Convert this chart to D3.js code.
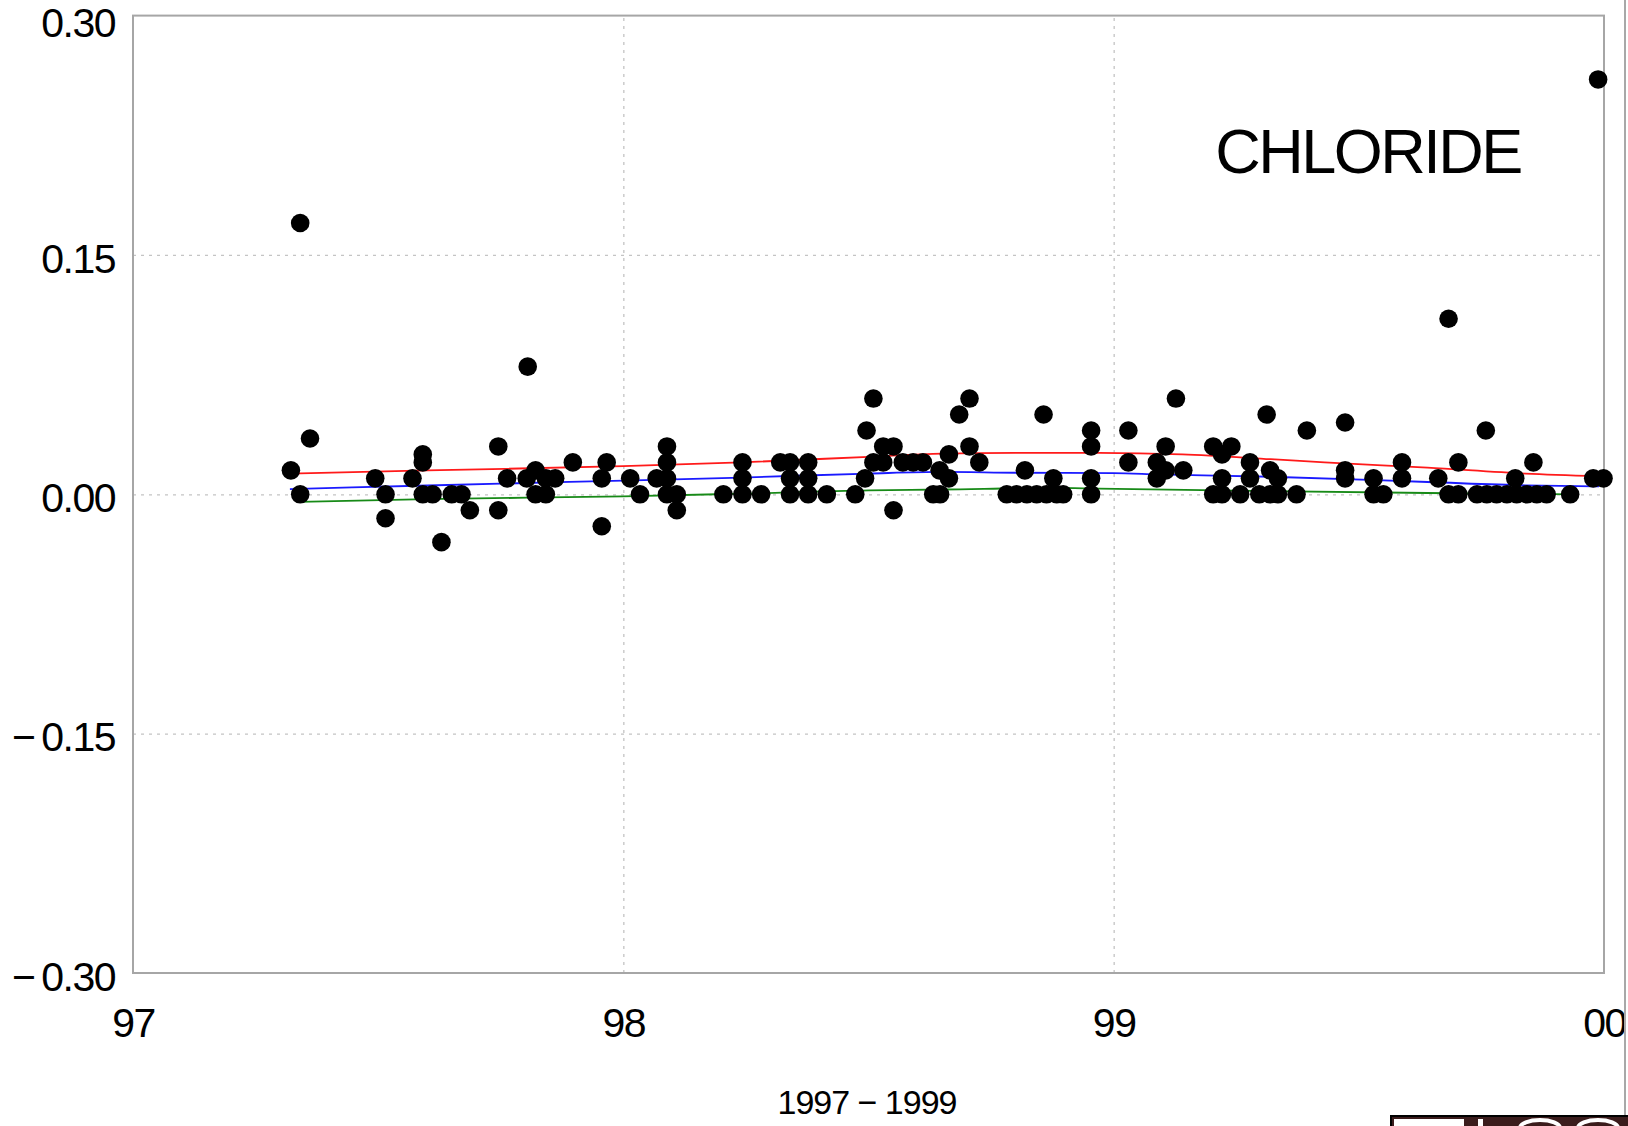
<!DOCTYPE html>
<html>
<head>
<meta charset="utf-8">
<script src="https://cdn.jsdelivr.net/npm/d3@7"></script>
<style>
  html, body { margin: 0; padding: 0; background: #fff; }
  svg { display: block; }
  text { font-family: "Liberation Sans", Arial, Helvetica, sans-serif; fill: #000; }
</style>
</head>
<body>
<script>
// ---- data (decimal year, chloride value) ----
const sampleYears = [
  97.322, 97.341, 97.341, 97.361, 97.494, 97.515, 97.515, 97.570, 97.591, 97.591,
  97.591, 97.611, 97.629, 97.650, 97.670, 97.687, 97.745, 97.745, 97.763, 97.803,
  97.805, 97.821, 97.821, 97.842, 97.842, 97.861, 97.897, 97.956, 97.956, 97.966,
  98.014, 98.034, 98.068, 98.089, 98.089, 98.089, 98.089, 98.109, 98.109, 98.204,
  98.243, 98.243, 98.243, 98.281, 98.320, 98.340, 98.340, 98.340, 98.377, 98.377,
  98.377, 98.415, 98.473, 98.493, 98.496, 98.510, 98.510, 98.530, 98.551, 98.530,
  98.551, 98.570, 98.591, 98.611, 98.632, 98.646, 98.645, 98.664, 98.664, 98.685,
  98.706, 98.706, 98.726, 98.782, 98.802, 98.819, 98.823, 98.843, 98.857, 98.863,
  98.877, 98.884, 98.897, 98.954, 98.954, 98.954, 98.954, 99.030, 99.030, 99.088,
  99.088, 99.106, 99.106, 99.127, 99.142, 99.203, 99.203, 99.221, 99.221, 99.221,
  99.240, 99.258, 99.278, 99.278, 99.297, 99.312, 99.319, 99.335, 99.319, 99.335,
  99.373, 99.394, 99.472, 99.472, 99.472, 99.530, 99.530, 99.550, 99.588, 99.588,
  99.662, 99.683, 99.683, 99.703, 99.703, 99.741, 99.759, 99.761, 99.781, 99.802,
  99.819, 99.822, 99.843, 99.856, 99.863, 99.883, 99.931, 99.978, 99.988, 99.999
];
const sampleValues = [
  0.015, 0.17, 0.0, 0.035, 0.01, 0.0, -0.015, 0.01, 0.025, 0.02,
  0.0, 0.0, -0.03, 0.0, 0.0, -0.01, 0.03, -0.01, 0.01, 0.01,
  0.08, 0.015, 0.0, 0.01, 0.0, 0.01, 0.02, 0.01, -0.02, 0.02,
  0.01, 0.0, 0.01, 0.03, 0.02, 0.01, 0.0, 0.0, -0.01, 0.0,
  0.02, 0.01, 0.0, 0.0, 0.02, 0.02, 0.01, 0.0, 0.02, 0.01,
  0.0, 0.0, 0.0, 0.01, 0.04, 0.06, 0.02, 0.03, 0.03, 0.02,
  -0.01, 0.02, 0.02, 0.02, 0.0, 0.0, 0.015, 0.025, 0.01, 0.05,
  0.06, 0.03, 0.02, 0.0, 0.0, 0.015, 0.0, 0.0, 0.05, 0.0,
  0.01, 0.0, 0.0, 0.04, 0.03, 0.01, 0.0, 0.04, 0.02, 0.02,
  0.01, 0.03, 0.015, 0.06, 0.015, 0.03, 0.0, 0.025, 0.01, 0.0,
  0.03, 0.0, 0.02, 0.01, 0.0, 0.05, 0.015, 0.01, 0.0, 0.0,
  0.0, 0.04, 0.045, 0.015, 0.01, 0.01, 0.0, 0.0, 0.02, 0.01,
  0.01, 0.0, 0.11, 0.02, 0.0, 0.0, 0.04, 0.0, 0.0, 0.0,
  0.01, 0.0, 0.0, 0.02, 0.0, 0.0, 0.0, 0.01, 0.26, 0.01
];

// smooth trend lines
const upperYears = [97.32, 97.6, 98.0, 98.24, 98.5, 98.65, 98.8, 98.97, 99.14, 99.32, 99.43, 99.64, 99.84, 99.99];
const upperValues = [0.013, 0.015, 0.0176, 0.020, 0.0235, 0.0255, 0.026, 0.026, 0.025, 0.022, 0.020, 0.0167, 0.013, 0.0113];
const middleYears = [97.32, 97.6, 98.0, 98.24, 98.5, 98.65, 98.8, 99.0, 99.09, 99.32, 99.64, 99.84, 99.99];
const middleValues = [0.0033, 0.0055, 0.0086, 0.0105, 0.013, 0.014, 0.0135, 0.0133, 0.0125, 0.011, 0.0077, 0.0056, 0.005];
const lowerYears = [97.34, 97.6, 98.0, 98.24, 98.5, 98.65, 98.88, 98.97, 99.32, 99.64, 99.93];
const lowerValues = [-0.0048, -0.003, -0.0013, 0.0004, 0.0025, 0.003, 0.004, 0.0035, 0.002, 0.0008, 0.0];

const xTicks = [97, 98, 99, 100];
const xTickLabels = ["97", "98", "99", "00"];
const yTicks = [0.30, 0.15, 0.00, -0.15, -0.30];
const chartTitle = "CHLORIDE";
const xAxisTitle = "1997 \u2212 1999";

// ---- layout ----
const W = 1628, H = 1126;
const L = 133, R = 1604, T = 15.6, B = 973;

const svg = d3.select("body").append("svg").attr("width", W).attr("height", H);

const x = d3.scaleLinear().domain([97, 100]).range([L, R]);
const y = d3.scaleLinear().domain([-0.30, 0.30]).range([B, T]);

// grid
const grid = svg.append("g");
grid.append("g")
  .attr("transform", `translate(0,${B})`)
  .call(d3.axisBottom(x).tickValues([98, 99]).tickSize(-(B - T)).tickFormat(""))
  .call(g => g.select(".domain").remove())
  .call(g => g.selectAll("line").attr("stroke", "#c4c4c4").attr("stroke-width", 1.3).attr("stroke-dasharray", "3,5"));
grid.append("g")
  .attr("transform", `translate(${L},0)`)
  .call(d3.axisLeft(y).tickValues([0.15, 0, -0.15]).tickSize(-(R - L)).tickFormat(""))
  .call(g => g.select(".domain").remove())
  .call(g => g.selectAll("line").attr("stroke", "#c4c4c4").attr("stroke-width", 1.3).attr("stroke-dasharray", "3,5"));

// frame
svg.append("rect").attr("x", L).attr("y", T).attr("width", R - L).attr("height", B - T)
  .attr("fill", "none").attr("stroke", "#a6a6a6").attr("stroke-width", 2);

// y axis labels
const yFmt = v => {
  const s = d3.format(".2f")(Math.abs(v));
  return v < -1e-9 ? "\u2212\u2009" + s : s;
};
svg.append("g")
  .attr("transform", `translate(${L},0)`)
  .call(d3.axisLeft(y).tickValues(yTicks).tickSize(0).tickPadding(18).tickFormat(yFmt))
  .call(g => g.select(".domain").remove())
  .call(g => g.selectAll("text")
    .attr("font-size", 41).attr("letter-spacing", -1.5)
    .attr("font-family", "'Liberation Sans', Arial, sans-serif")
    .attr("dy", d => d > 0.29 ? "0.52em" : "0.42em").attr("fill", "#000"));

// x axis labels
svg.append("g")
  .attr("transform", `translate(0,${B})`)
  .call(d3.axisBottom(x).tickValues(xTicks).tickSize(0).tickPadding(35)
    .tickFormat((d, i) => xTickLabels[i]))
  .call(g => g.select(".domain").remove())
  .call(g => g.selectAll("text")
    .attr("font-size", 41).attr("letter-spacing", -1.5)
    .attr("font-family", "'Liberation Sans', Arial, sans-serif")
    .attr("fill", "#000"));

// lines
const line = d3.line().x(d => x(d[0])).y(d => y(d[1])).curve(d3.curveMonotoneX);
const series = [
  { yrs: upperYears, vals: upperValues, color: "#ff1a1a" },
  { yrs: middleYears, vals: middleValues, color: "#1a1aff" },
  { yrs: lowerYears, vals: lowerValues, color: "#178a17" }
];
series.forEach(s => {
  svg.append("path")
    .datum(s.yrs.map((yr, i) => [yr, s.vals[i]]))
    .attr("d", line).attr("fill", "none")
    .attr("stroke", s.color).attr("stroke-width", 1.8);
});

// points
svg.append("g").selectAll("circle")
  .data(sampleYears.map((yr, i) => [yr, sampleValues[i]]))
  .join("circle")
  .attr("cx", d => x(d[0])).attr("cy", d => y(d[1])).attr("r", 9.3)
  .attr("fill", "#000");

// title
svg.append("text").attr("x", 1368).attr("y", 173).attr("text-anchor", "middle")
  .attr("font-size", 63).attr("letter-spacing", -2.5).text(chartTitle);

// x axis title
svg.append("text").attr("x", 867).attr("y", 1114).attr("text-anchor", "middle")
  .attr("font-size", 34).attr("letter-spacing", -1).text(xAxisTitle);

// right edge separator
svg.append("rect").attr("x", 1624).attr("y", 0).attr("width", 4).attr("height", 1116).attr("fill", "#fff");
svg.append("line").attr("x1", 1625).attr("x2", 1625).attr("y1", 0).attr("y2", 1116)
  .attr("stroke", "#a8a8a8").attr("stroke-width", 2);

// partial logo at bottom-right
const logo = svg.append("g");
logo.append("rect").attr("x", 1391).attr("y", 1116).attr("width", 240).attr("height", 14)
  .attr("fill", "#3b1c1c").attr("stroke", "#000").attr("stroke-width", 2);
logo.append("rect").attr("x", 1394).attr("y", 1119).attr("width", 70).attr("height", 10).attr("fill", "#fff");
logo.append("rect").attr("x", 1478).attr("y", 1119).attr("width", 5).attr("height", 10).attr("fill", "#fff");
logo.append("ellipse").attr("cx", 1540).attr("cy", 1128).attr("rx", 20).attr("ry", 8).attr("fill", "none").attr("stroke", "#fff").attr("stroke-width", 4);
logo.append("ellipse").attr("cx", 1598).attr("cy", 1128).attr("rx", 20).attr("ry", 8).attr("fill", "none").attr("stroke", "#fff").attr("stroke-width", 4);
</script>
</body>
</html>
